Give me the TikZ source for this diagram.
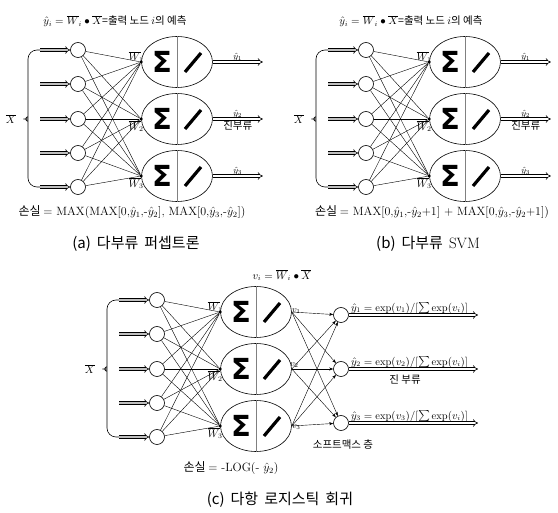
\documentclass[tikz,border=0pt]{standalone}
\usepackage{fontspec}
\usepackage{amsmath}
\usetikzlibrary{arrows.meta, shapes.geometric, positioning}
\newfontfamily\kr{Noto Sans CJK KR}
\newfontfamily\symfont{DejaVu Sans}

\begin{document}
\begin{tikzpicture}[x=1pt, y=-1pt, >={Stealth[length=4pt, width=3pt]},
  inp/.style={circle, draw, line width=0.6pt, minimum size=15pt, inner sep=0pt},
  neuron/.style={ellipse, draw, line width=0.6pt, minimum width=71pt, minimum height=51pt, inner sep=0pt},
  wdot/.style={circle, fill, minimum size=3.5pt, inner sep=0pt},
  wire/.style={line width=0.4pt},
  inarrow/.style={double=gray!50, double distance=2pt, line width=0.6pt, -{Implies}},
  outarrow/.style={double=white, double distance=2pt, line width=0.6pt, -{Implies}},
  sig/.style={font=\symfont\bfseries\fontsize{29}{29}\selectfont, inner sep=0pt},
  slash/.style={line width=3.2pt},
  lbl/.style={font=\small, inner sep=1pt},
  smlbl/.style={font=\fontsize{10.5}{12}\selectfont, inner sep=1pt},
  krlbl/.style={font=\kr\fontsize{10.5}{12}\selectfont, inner sep=1pt},
  eqn/.style={font=\kr\fontsize{10.5}{12}\selectfont},
  loss/.style={font=\kr\fontsize{12}{14}\selectfont},
  capt/.style={font=\kr\fontsize{15}{18}\selectfont}]
\useasboundingbox (0,0) rectangle (558,513);

% ---- shared network: inputs, brace, three neurons ----
\foreach \p/\sx/\sy in {a/0/0, b/288/0, c/79/250}{
\begin{scope}[shift={(\sx,\sy)}]
  \coordinate (\p-btop) at (40,50);
  \coordinate (\p-bbot) at (40,187);
  \coordinate (\p-tip) at (18,119);
  \draw[line width=0.6pt, rounded corners=9pt] (\p-btop) -| (28,109)
    .. controls (28,115) and (24,119) .. (\p-tip)
    .. controls (24,119) and (28,123) .. (28,129) |- (\p-bbot);
  \node[smlbl, left=1pt of \p-tip] (\p-X) {$\overline{X}$};
  \foreach \i/\y in {1/50, 2/84, 3/119, 4/153, 5/187}{
    \node[inp] (\p-x\i) at (78,\y) {};
    \coordinate (\p-t\i) at (40,\y);
    \draw[inarrow] (\p-t\i) -- (\p-x\i);
  }
  \foreach \j/\y in {1/62, 2/119, 3/176}{
    \node[neuron] (\p-n\j) at (177,\y) {};
    \draw[gray, line width=0.5pt] (\p-n\j.north) -- (\p-n\j.south);
    \node[sig] (\p-sg\j) at ([xshift=-15pt]\p-n\j.center) {Σ};
    \draw[slash] ([shift={(8,10)}]\p-n\j.center) -- ([shift={(24,-9)}]\p-n\j.center);
    \node[wdot] (\p-d\j) at (\p-n\j.west) {};
    \foreach \i in {1,...,5}
      \draw[wire] (\p-x\i) -- (\p-d\j);
  }
  \node[smlbl, above left=-3pt and -5pt of \p-d1] (\p-w1) {$\overline{W}_{\!1}$};
  \node[smlbl, below left=-1pt and -5pt of \p-d2] (\p-w2) {$\overline{W}_{\!2}$};
  \node[smlbl, below left=-1pt and -5pt of \p-d3] (\p-w3) {$\overline{W}_{\!3}$};
\end{scope}
}

% ---- outputs of (a) and (b) ----
\foreach \p in {a,b}{
  \foreach \j in {1,2,3}{
    \coordinate (\p-o\j) at ([xshift=50pt]\p-n\j.east);
    \draw[outarrow] (\p-n\j.east) -- (\p-o\j) coordinate[midway] (\p-m\j);
    \node[lbl, above=0pt of \p-m\j] (\p-yh\j) {$\hat{y}_\j$};
  }
  \node[krlbl, below=1pt of \p-m2] (\p-true) {진부류};
}

% ---- softmax layer of (c) ----
\foreach \k/\y in {1/315, 2/369, 3/423}{
  \node[inp] (c-s\k) at (341,\y) {};
  \coordinate (c-o\k) at (478,\y);
  \draw[outarrow] (c-s\k) -- (c-o\k);
  \node[smlbl, above right=0pt and 1pt of c-s\k.east] (c-yh\k) {$\hat{y}_\k = \exp(v_\k)/[\sum\exp(v_i)]$};
}
\foreach \j in {1,2,3}
  \foreach \k in {1,2,3}
    \draw[wire, ->] (c-n\j.east) -- (c-s\k);
\node[lbl, above right=-3pt and -1pt of c-n1.east] (c-v1) {$v_1$};
\node[lbl, above right=0pt and -3pt of c-n2.east] (c-v2) {$v_2$};
\node[lbl, below right=-3pt and -1pt of c-n3.east] (c-v3) {$v_3$};
\node[krlbl] (c-true) at (405,380) {진 부류};
\node[krlbl] (c-smax) at (343,445) {소프트맥스 층};

% ---- formulas and captions ----
\node[eqn] (a-title) at (115,21) {$\hat{y}_i = \overline{W}_i \bullet \overline{X}$=출력 노드 $i$의 예측};
\node[eqn] (b-title) at (411,21) {$\hat{y}_i = \overline{W}_i \bullet \overline{X}$=출력 노드 $i$의 예측};
\node[smlbl] (c-vdef) at (282,275) {$v_i = \overline{W}_i \bullet \overline{X}$};
\node[loss] (a-loss) at (132,212) {손실 {\rmfamily = MAX(MAX[0,$\hat{y}_1$,-$\hat{y}_2$], MAX[0,$\hat{y}_3$,-$\hat{y}_2$])}};
\node[loss] (b-loss) at (432,212) {손실 {\rmfamily = MAX[0,$\hat{y}_1$,-$\hat{y}_2$+1] + MAX[0,$\hat{y}_3$,-$\hat{y}_2$+1])}};
\node[loss] (c-loss) at (231,468) {손실 {\rmfamily = -LOG(- $\hat{y}_2$)}};
\node[capt] (a-cap) at (136,244) {(a)\hspace{6pt}다부류\hspace{6pt}퍼셉트론};
\node[capt] (b-cap) at (428,244) {(b)\hspace{6pt}다부류\hspace{6pt}{\rmfamily SVM}};
\node[capt] (c-cap) at (280,500) {(c)\hspace{6pt}다항\hspace{6pt}로지스틱\hspace{6pt}회귀};
\end{tikzpicture}
\end{document}
